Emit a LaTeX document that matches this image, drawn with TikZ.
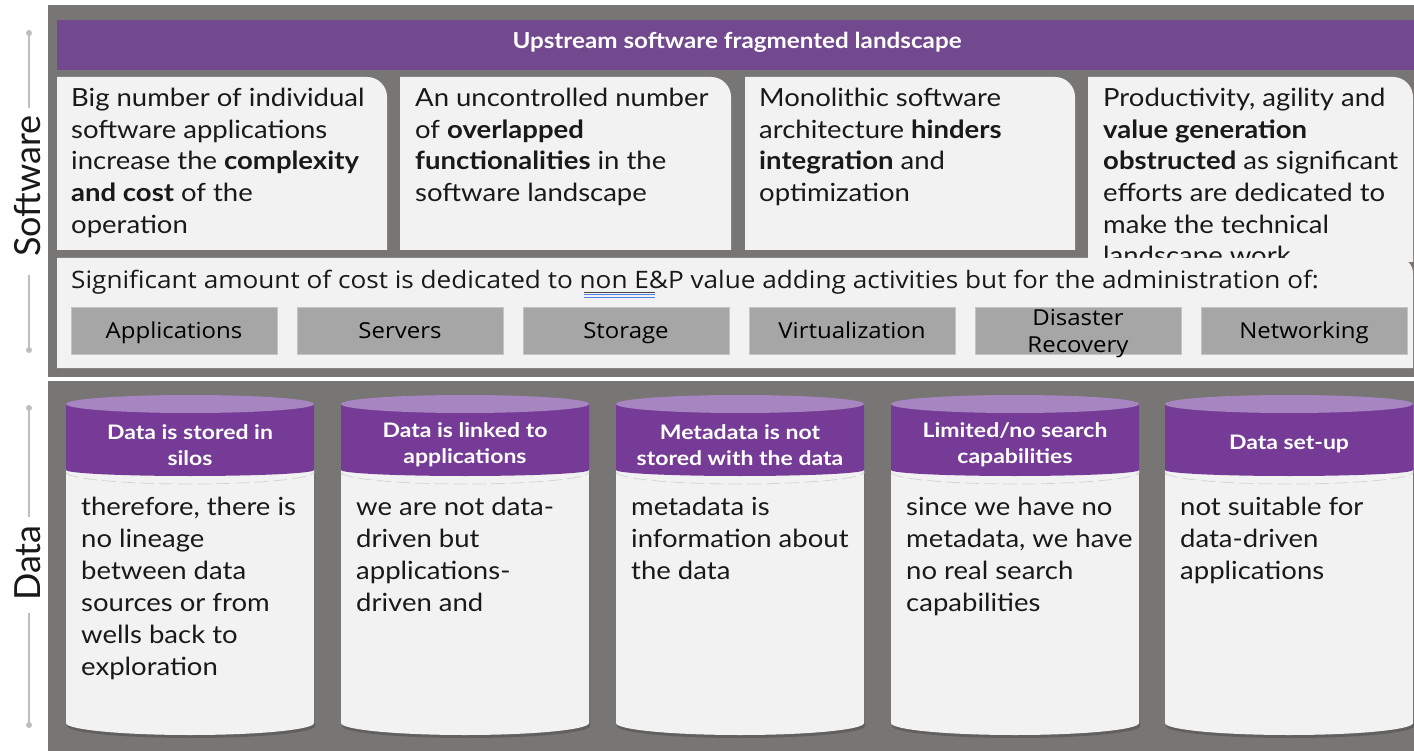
\documentclass[tikz,border=0pt]{standalone}
\usepackage{fontspec}
\setmainfont{Lato}
\newfontfamily\cardfont[FakeStretch=1.1]{Lato}
\newfontfamily\hdfont[FakeStretch=1.15]{Lato}
\newfontfamily\segfont[FakeStretch=1.09]{Open Sans}
\definecolor{panelgray}{RGB}{119,118,116}
\definecolor{bandpurple}{RGB}{114,72,142}
\definecolor{cylpurple}{RGB}{118,59,150}
\definecolor{cyltop}{RGB}{167,133,192}
\definecolor{cardfill}{RGB}{242,242,242}
\definecolor{boxfill}{RGB}{166,166,166}
\definecolor{boxedge}{RGB}{196,196,196}
\definecolor{sidegray}{RGB}{190,190,190}
\definecolor{txt}{RGB}{25,25,25}
\definecolor{spellblue}{RGB}{80,130,230}
\newcommand{\boxlabel}[1]{\smash{#1}\vphantom{A}}
\tikzset{
  cardtxt/.style={anchor=north west, inner sep=0pt, align=left, text=txt,
    font=\cardfont\fontsize{25}{31.6}\selectfont},
  bodytxt/.style={anchor=north west, inner sep=0pt, align=left, text=txt,
    font=\cardfont\fontsize{25}{32}\selectfont},
  headtxt/.style={inner sep=0pt, align=center, text=white,
    font=\hdfont\bfseries\fontsize{20}{26}\selectfont},
  graybox/.style={fill=boxfill, draw=boxedge, line width=0.8pt, minimum width=206pt,
    minimum height=47pt, inner sep=0pt, align=center, text=black,
    font=\segfont\fontsize{22}{27}\selectfont},
  sidelabel/.style={rotate=90, inner sep=0pt, text=txt, font=\fontsize{36}{36}\selectfont},
  sideline/.style={draw=sidegray, line width=1.2pt},
}
\begin{document}
\begin{tikzpicture}[x=1pt,y=-1pt]
\useasboundingbox (0,0) rectangle (1414,751);
\fill[white] (0,0) rectangle (1414,751);

% ---------- Software panel ----------
\fill[panelgray] (48,5) rectangle (1414,377);
\fill[bandpurple] (57,20) rectangle (1414,70);
\node[inner sep=0pt, text=white, font=\cardfont\bfseries\fontsize{22}{24}\selectfont] (title) at (737,42) {Upstream software fragmented landscape};

% cards (top-right corner rounded)
\foreach \a/\b/\c in {57/387/250, 400/731/250, 745/1075/250, 1088/1413/262}{
  \fill[cardfill] (\a,\c) -- (\a,77) [rounded corners=20pt] -- (\b,77) [sharp corners] -- (\b,\c) -- cycle;
}
\node[cardtxt] (c1) at (71,88) {Big number of individual\\software applications\\increase the \textbf{complexity}\\\textbf{and cost} of the\\operation};
\node[cardtxt] (c2) at (415,88) {An uncontrolled number\\of \textbf{overlapped}\\\textbf{functionalities} in the\\software landscape};
\node[cardtxt] (c3) at (759,88) {Monolithic software\\architecture \textbf{hinders}\\\textbf{integration} and\\optimization};
\node[cardtxt] (c4) at (1103,88) {Productivity, agility and\\\textbf{value generation}\\\textbf{obstructed} as significant\\efforts are dedicated to\\make the technical\\landscape work};

% lower admin panel
\fill[cardfill] (57,368) -- (57,258) [rounded corners=15pt] -- (1413,258) [sharp corners] -- (1413,368) -- cycle;
\node[anchor=base west, inner sep=0pt, text=txt, font=\segfont\fontsize{24}{27}\selectfont] (admin) at (71,289) {Significant amount of cost is dedicated to non E\&P value adding activities but for the administration of:};
\draw[txt!80, line width=0.8pt] (584,292) -- (655,292);
\draw[spellblue, line width=0.9pt] (584,294.5) -- (655,294.5) (584,297) -- (655,297);

\node[graybox] (b1) at (174,330.5) {\boxlabel{Applications}};
\node[graybox] (b2) at (400,330.5) {\boxlabel{Servers}};
\node[graybox] (b3) at (626,330.5) {\boxlabel{Storage}};
\node[graybox] (b4) at (852,330.5) {\boxlabel{Virtualization}};
\node[graybox, minimum height=47pt] (b5) at (1078,330.5) {};
\node[inner sep=0pt, align=center, text=black, font=\segfont\fontsize{22}{27}\selectfont] (b5t) at (1078,334) {Disaster\\Recovery};
\node[graybox] (b6) at (1304,330.5) {\boxlabel{Networking}};

% ---------- Data panel ----------
\fill[panelgray] (48,381) rectangle (1414,751);
\foreach \xl in {66,341,616,891,1165}{
  \pgfmathsetmacro{\xr}{\xl+248}
  \pgfmathsetmacro{\xc}{\xl+124}
  % soft shadow
  \fill[black, opacity=0.18] (\xl+1,474) -- (\xl+1,726) arc[start angle=180, end angle=360, x radius=124pt, y radius=12pt] -- (\xr+1,474) -- cycle;
  % body
  \fill[cardfill] (\xl,470) -- (\xl,723) arc[start angle=180, end angle=360, x radius=124pt, y radius=12pt] -- (\xr,470) -- cycle;
  % header
  \fill[cylpurple] (\xl,404) -- (\xl,470) arc[start angle=180, end angle=360, x radius=124pt, y radius=6pt] -- (\xr,404) -- cycle;
  \fill[cyltop] (\xc,404) ellipse[x radius=124pt, y radius=9pt];
  % dashed rim
  \draw[sidegray!70, dash pattern=on 14pt off 5pt, line width=0.7pt] (\xl,472) arc[start angle=180, end angle=360, x radius=124pt, y radius=12pt];
}
\node[headtxt] (h1) at (190,445) {Data is stored in\\silos};
\node[headtxt] (h2) at (465,445) {Data is linked to\\applications};
\node[headtxt] (h3) at (740,445) {Metadata is not\\stored with the data};
\node[headtxt] (h4) at (1015,445) {Limited/no search\\capabilities};
\node[headtxt] (h5) at (1289,444) {Data set-up};

\node[bodytxt] (t1) at (81,497) {therefore, there is\\no lineage\\between data\\sources or from\\wells back to\\exploration};
\node[bodytxt] (t2) at (356,497) {we are not data-\\driven but\\applications-\\driven and};
\node[bodytxt] (t3) at (631,497) {metadata is\\information about\\the data};
\node[bodytxt] (t4) at (906,497) {since we have no\\metadata, we have\\no real search\\capabilities};
\node[bodytxt] (t5) at (1180,497) {not suitable for\\data-driven\\applications};

% ---------- side labels ----------
\node[sidelabel] (sw) at (28,186) {Software};
\node[sidelabel] (dt) at (28,563) {Data};
\coordinate (s1) at (29,33); \coordinate (s2) at (29,108);
\coordinate (s3) at (29,275); \coordinate (s4) at (29,350);
\coordinate (d1) at (29,408); \coordinate (d2) at (29,517);
\coordinate (d3) at (29,613); \coordinate (d4) at (29,725);
\draw[sideline] (s1) -- (s2) (s3) -- (s4) (d1) -- (d2) (d3) -- (d4);
\foreach \p in {s1,s4,d1,d4}{ \fill[sidegray] (\p) circle[radius=3pt]; }
\end{tikzpicture}
\end{document}
